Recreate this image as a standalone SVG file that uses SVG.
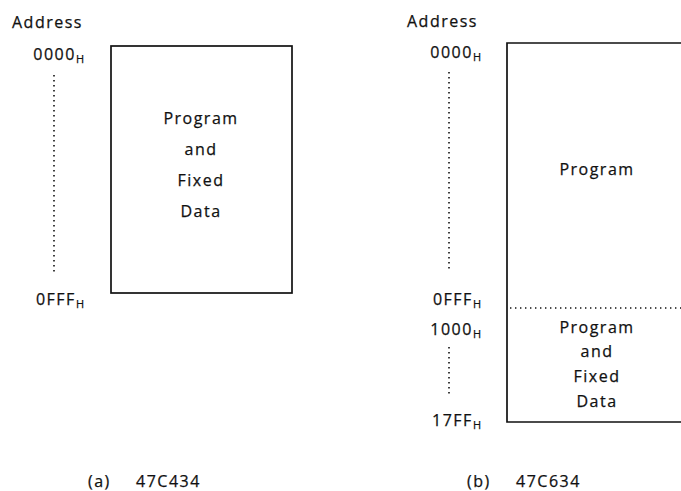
<svg xmlns="http://www.w3.org/2000/svg" width="681" height="491" viewBox="0 0 681 491">
<style>
text{font-family:"Open Sans","DejaVu Sans",sans-serif;fill:#111;font-size:16px;letter-spacing:1.5px;font-weight:500;stroke:#111;stroke-width:0.25}
.c{text-anchor:middle}
.e{text-anchor:end}
.sub{font-size:11px;letter-spacing:0}
.box{fill:none;stroke:#111;stroke-width:1.7}
.dot{fill:none;stroke:#111;stroke-width:1.6;stroke-dasharray:1.4 3.6}
</style>
<rect width="681" height="491" fill="#fff"/>
<g id="panel-a">
  <text x="12" y="28">Address</text>
  <text class="e" x="84" y="60">0000<tspan class="sub" dy="3">H</tspan></text>
  <text class="e" x="84" y="305">0FFF<tspan class="sub" dy="3">H</tspan></text>
  <g id="mem-a">
    <rect class="box" x="111" y="46" width="181" height="247"/>
    <text class="c" x="201" y="124">Program</text>
    <text class="c" x="201" y="155">and</text>
    <text class="c" x="201" y="186">Fixed</text>
    <text class="c" x="201" y="217">Data</text>
  </g>
  <text x="88" y="487">(a)</text>
  <text x="136" y="487">47C434</text>
</g>
<g id="panel-b">
  <text x="407" y="27">Address</text>
  <text class="e" x="481" y="58">0000<tspan class="sub" dy="3">H</tspan></text>
  <text class="e" x="481" y="305">0FFF<tspan class="sub" dy="3">H</tspan></text>
  <text class="e" x="481" y="335">1000<tspan class="sub" dy="3">H</tspan></text>
  <text class="e" x="481" y="426">17FF<tspan class="sub" dy="3">H</tspan></text>
  <g id="mem-b-program">
    <path class="box" d="M690 43 H507 V308"/>
    <text class="c" x="597" y="175">Program</text>
  </g>
  <g id="mem-b-fixed">
    <path class="box" d="M507 308 V422 H690"/>
    <text class="c" x="597" y="333">Program</text>
    <text class="c" x="597" y="357">and</text>
    <text class="c" x="597" y="382">Fixed</text>
    <text class="c" x="597" y="407">Data</text>
  </g>
  <text x="467" y="487">(b)</text>
  <text x="516" y="487">47C634</text>
</g>
<g id="connectors">
  <line class="dot" x1="54" y1="75" x2="54" y2="272"/>
  <line class="dot" x1="449" y1="72" x2="449" y2="270"/>
  <line class="dot" x1="449" y1="347" x2="449" y2="396"/>
  <line class="dot" x1="510" y1="308" x2="681" y2="308"/>
</g>
</svg>
